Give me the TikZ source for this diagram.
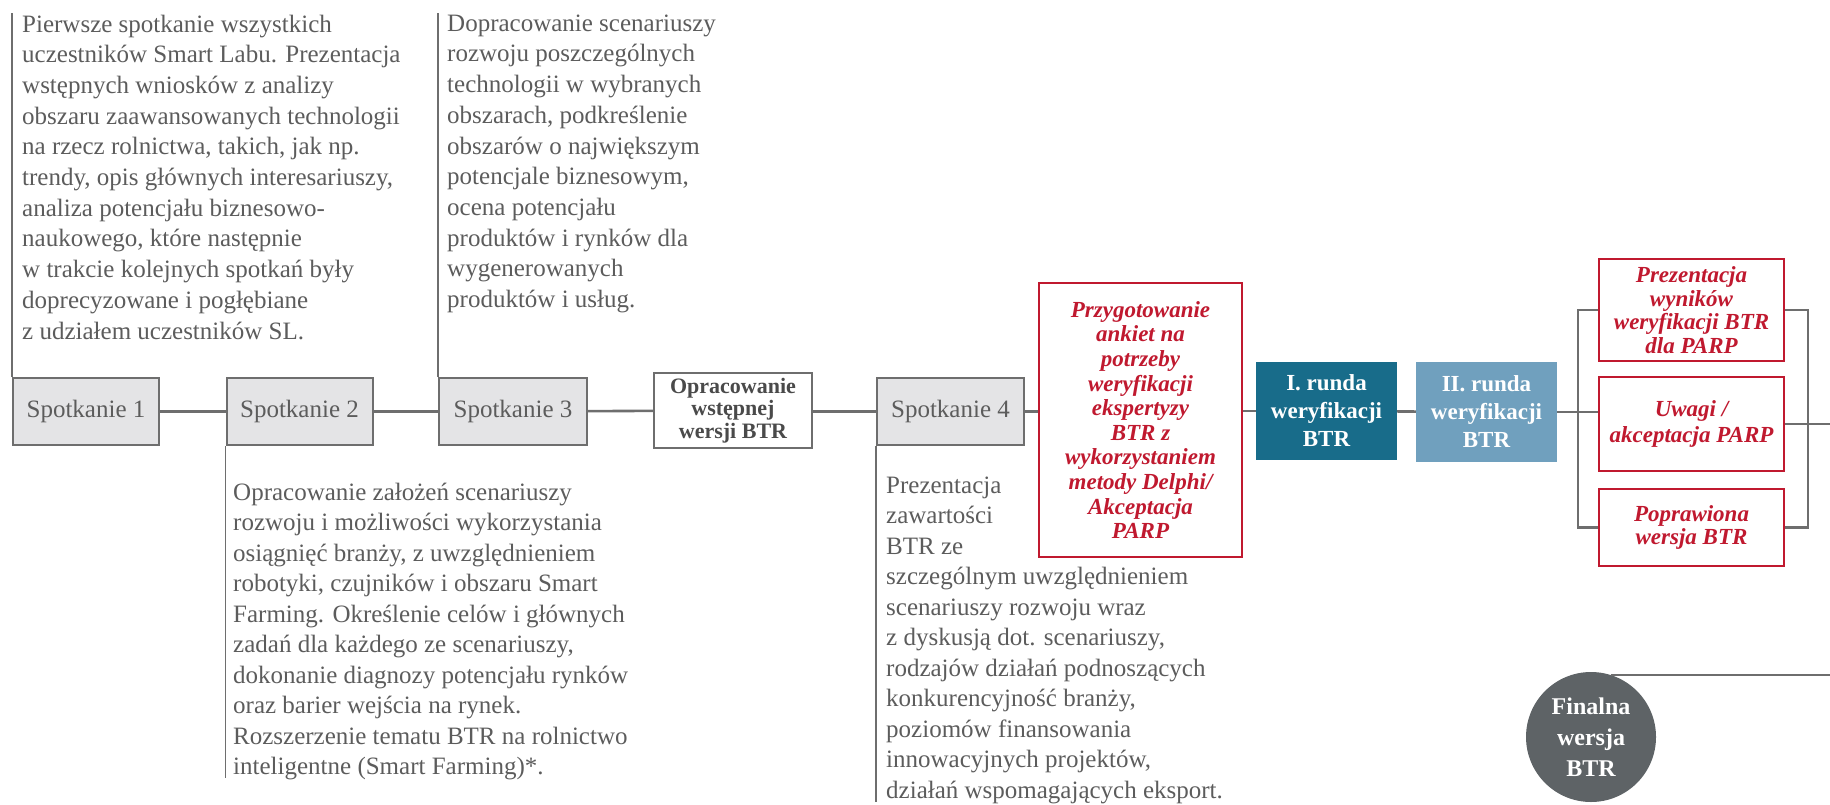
\documentclass[tikz,border=0pt]{standalone}
\usepackage{fontspec}
\setmainfont{Liberation Serif}
\definecolor{linegray}{HTML}{6E6E6E}
\definecolor{boxfill}{HTML}{E4E4E6}
\definecolor{txtgray}{HTML}{5C5C5C}
\definecolor{redc}{HTML}{C0192F}
\definecolor{tealdark}{HTML}{186C8A}
\definecolor{teallight}{HTML}{70A0BE}
\definecolor{circgray}{HTML}{5E6366}
\definecolor{oprtxt}{HTML}{4A4A4A}
\tikzset{
  spot/.style={draw=linegray, line width=2pt, fill=boxfill, minimum width=146pt, minimum height=67pt, inner sep=0pt, text=txtgray, font=\fontsize{25}{30}\selectfont},
  redbox/.style={draw=redc, line width=2pt, fill=white, text=redc, align=center, inner sep=0pt, minimum width=185pt},
  redfont/.style={font=\fontsize{23}{23.5}\selectfont\bfseries\itshape},
  desc/.style={anchor=north west, align=left, inner sep=0pt, text=txtgray, font=\fontsize{25}{30.7}\selectfont},
  conn/.style={draw=linegray, line width=2.6pt},
  vline/.style={draw=linegray, line width=1.8pt},
  runda/.style={inner sep=0pt, minimum width=141pt, align=center, text=white, font=\fontsize{23}{28}\selectfont\bfseries}
}
\begin{document}
\begin{tikzpicture}[x=1pt,y=-1pt]
\useasboundingbox (0,0) rectangle (1830,805);
% anchors for free ends
\coordinate (topend) at (0,13);
\coordinate (re) at (1830,0);
\coordinate (bl) at (1578,0);
\coordinate (br) at (1808,0);
% main boxes
\node[spot] (s1) at (86,411.5) {Spotkanie 1};
\node[spot] (s2) at (299.5,411.5) {Spotkanie 2};
\node[spot, minimum width=148pt] (s3) at (513,411.5) {Spotkanie 3};
\node[draw=linegray, line width=2pt, fill=white, minimum width=158pt, minimum height=75pt, inner sep=0pt, align=center, text=oprtxt, font=\fontsize{22}{22.5}\selectfont\bfseries] (opr) at (733,410.5) {Opracowanie\\wstępnej\\wersji BTR};
\node[spot, minimum width=147pt] (s4) at (950.5,411.5) {Spotkanie 4};
\node[redbox, redfont, minimum width=203pt, minimum height=274pt, font=\fontsize{23}{24.6}\selectfont\bfseries\itshape] (prz) at (1140.5,420) {Przygotowanie\\ankiet na\\potrzeby\\weryfikacji\\ekspertyzy\\BTR z\\wykorzystaniem\\metody Delphi/\\Akceptacja\\PARP};
\node[runda, fill=tealdark, minimum height=98pt] (r1) at (1326.5,411) {I. runda\\weryfikacji\\BTR};
\node[runda, fill=teallight, minimum height=100pt] (r2) at (1486.5,412) {II. runda\\weryfikacji\\BTR};
\node[redbox, redfont, minimum height=102pt] (pw) at (1691.5,310) {Prezentacja\\wyników\\weryfikacji BTR\\dla PARP};
\node[redbox, redfont, minimum height=94pt, font=\fontsize{23}{25.5}\selectfont\bfseries\itshape] (uw) at (1691.5,424) {Uwagi /\\akceptacja PARP};
\node[redbox, redfont, minimum height=77pt] (pop) at (1691.5,527.5) {Poprawiona\\wersja BTR};
\node[circle, fill=circgray, minimum size=130pt, inner sep=0pt, align=center, text=white, font=\fontsize{24}{31}\selectfont\bfseries] (fin) at (1591,737) {Finalna\\wersja\\BTR};
% description texts
\node[desc] (t1) at (22,14.5) {Pierwsze spotkanie wszystkich\\uczestników Smart Labu. Prezentacja\\wstępnych wniosków z analizy\\obszaru zaawansowanych technologii\\na rzecz rolnictwa, takich, jak np.\\trendy, opis głównych interesariuszy,\\analiza potencjału biznesowo-\\naukowego, które następnie\\w trakcie kolejnych spotkań były\\doprecyzowane i pogłębiane\\z udziałem uczestników SL.};
\node[desc] (t2) at (447,14.5) {Dopracowanie scenariuszy\\rozwoju poszczególnych\\technologii w wybranych\\obszarach, podkreślenie\\obszarów o największym\\potencjale biznesowym,\\ocena potencjału\\produktów i rynków dla\\wygenerowanych\\produktów i usług.};
\node[desc, font=\fontsize{25}{30.5}\selectfont] (t3) at (233,482.5) {Opracowanie założeń scenariuszy\\rozwoju i możliwości wykorzystania\\osiągnięć branży, z uwzględnieniem\\robotyki, czujników i obszaru Smart\\Farming. Określenie celów i głównych\\zadań dla każdego ze scenariuszy,\\dokonanie diagnozy potencjału rynków\\oraz barier wejścia na rynek.\\Rozszerzenie tematu BTR na rolnictwo\\inteligentne (Smart Farming)*.};
\node[desc, font=\fontsize{25}{30.5}\selectfont] (t4) at (886,476.5) {Prezentacja\\zawartości\\BTR ze\\szczególnym uwzględnieniem\\scenariuszy rozwoju wraz\\z dyskusją dot. scenariuszy,\\rodzajów działań podnoszących\\konkurencyjność branży,\\poziomów finansowania\\innowacyjnych projektów,\\działań wspomagających eksport.};
% vertical lines to descriptions
\coordinate (b2) at (0,778);
\coordinate (b4) at (0,802);
\draw[vline] (s1.north west) -- (s1.north west |- topend);
\draw[vline] (s3.north west) -- (s3.north west |- topend);
\draw[vline] (s2.south west) -- (s2.south west |- b2);
\draw[vline] (s4.south west) -- (s4.south west |- b4);
% connectors
\draw[conn] (s1) -- (s2);
\draw[conn] (s2) -- (s3);
\draw[conn] (s3) -- (opr);
\draw[conn] (opr.east |- s4.west) -- (s4.west);
\draw[conn] (s4.east) -- (s4.east -| prz.west);
\draw[conn] (r1.west -| prz.east) -- (r1.west);
\draw[conn] (r1) -- (r2);
\draw[conn] (r2.east) -- (r2.east -| uw.west);
% bracket
\draw[vline, line width=2.2pt] (pw.west) -- (pw.west -| bl) -- (pop.west -| bl) -- (pop.west);
\draw[vline, line width=2.2pt] (pw.east) -- (pw.east -| br) -- (pop.east -| br) -- (pop.east);
\draw[vline, line width=2.2pt] (uw.east) -- (uw.east -| re);
\draw[vline, line width=2.2pt] (fin.72) -- (fin.72 -| re);
\end{tikzpicture}
\end{document}
